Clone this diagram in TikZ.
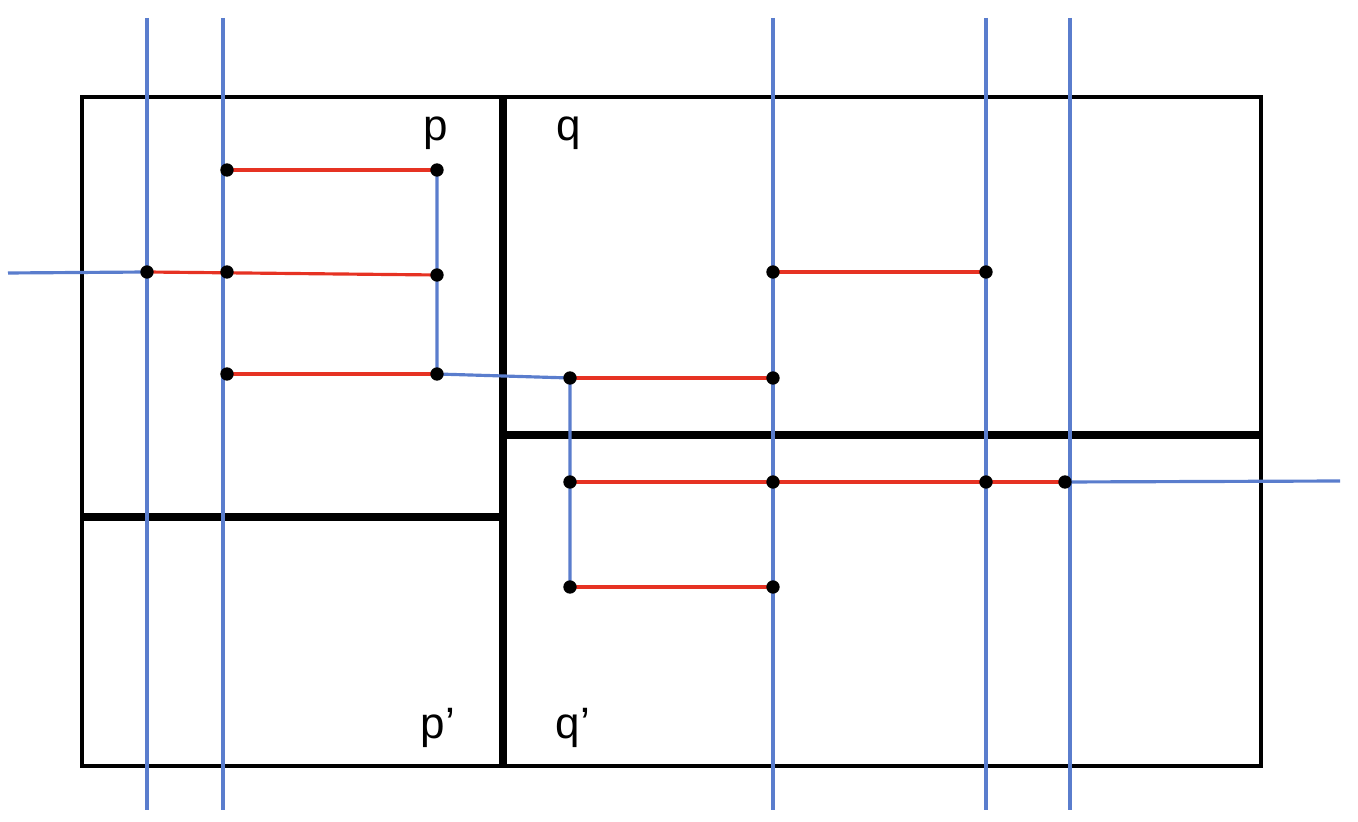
\documentclass[tikz,border=0pt]{standalone}
\usepackage{fontspec}
\setmainfont{Liberation Sans}
\usepackage{tikz}
\definecolor{gridblue}{RGB}{90,125,205}
\definecolor{edgered}{RGB}{230,50,35}
\begin{document}
\begin{tikzpicture}[x=0.01cm,y=-0.01cm,
    wall/.style={line width=2.4pt},
    cut/.style={gridblue,line width=0.9pt},
    link/.style={edgered,line width=0.9pt},
    pt/.style={circle,fill=black,inner sep=0pt,minimum size=3.8pt},
    lbl/.style={font=\fontsize{12.5}{15}\selectfont}]
  \useasboundingbox (0,0) rectangle (1358,822);
  % cells
  \draw[line width=0.9pt] (82,97) rectangle (1261,766);
  \draw[wall] (503,97) -- (503,766);
  \draw[wall] (82,517) -- (503,517);
  \draw[wall] (503,435) -- (1261,435);
  % vertical cuts
  \foreach \x/\n in {147/a,223/b,773/c,986/d,1070/e}
    \draw[cut] (\x,18) coordinate (top\n) -- (\x,810) coordinate (bot\n);
  % points
  \foreach \n/\x/\y in {a1/227/170,a2/437/170,b0/147/272,b1/227/272,b2/437/275,
      c1/227/374,c2/437/374,d1/570/378,d2/773/378,e1/773/272,e2/986/272,
      f1/570/482,f2/773/482,f3/986/482,f4/1065/482,g1/570/587,g2/773/587}
    \coordinate (\n) at (\x,\y);
  \coordinate (wl) at (8,273);
  \coordinate (wr) at (1340,481);
  % blue path
  \draw[cut] (wl) -- (b0);
  \draw[cut] (a2) -- (c2) -- (d1) -- (g1);
  \draw[cut] (f4) -- (wr);
  % red links
  \foreach \s/\t in {a1/a2,b0/b2,c1/c2,d1/d2,e1/e2,f1/f4,g1/g2}
    \draw[link] (\s) -- (\t);
  \foreach \n in {a1,a2,b0,b1,b2,c1,c2,d1,d2,e1,e2,f1,f2,f3,f4,g1,g2}
    \node[pt] at (\n) {};
  % labels
  \node[lbl] (p) at (436,133) {p};
  \node[lbl] (q) at (569,133) {q};
  \node[lbl] (pp) at (438,728) {p’};
  \node[lbl] (qq) at (573,728) {q’};
\end{tikzpicture}
\end{document}
